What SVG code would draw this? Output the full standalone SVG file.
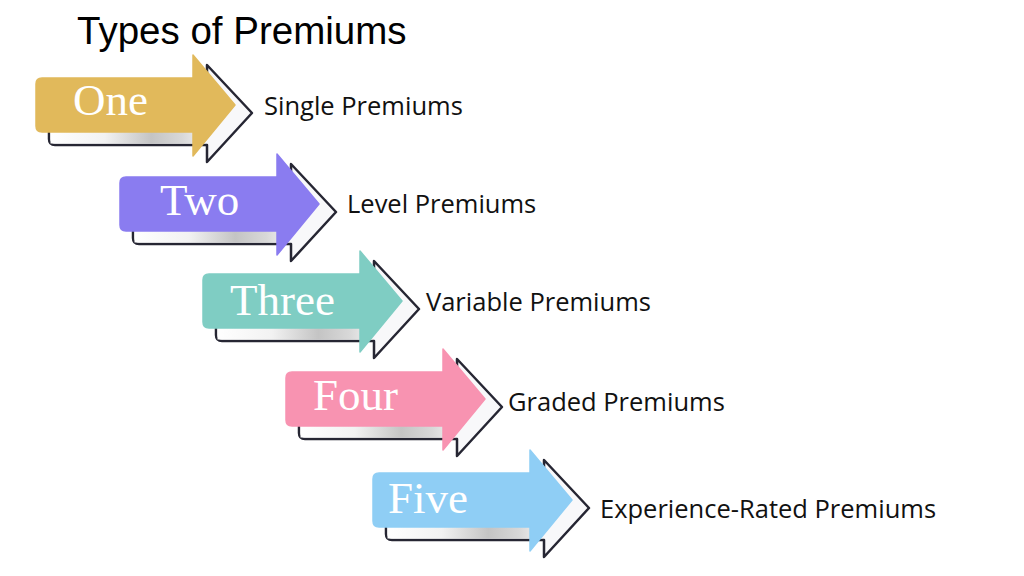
<svg xmlns="http://www.w3.org/2000/svg" width="1024" height="576" viewBox="0 0 1024 576">
<style>
.title{font-family:"Liberation Sans",Arial,sans-serif;font-size:38.5px;fill:#000}
.lbl{font-family:"Open Sans","Liberation Sans",sans-serif;font-size:25.5px;fill:#111}
.num{font-family:"Liberation Serif","Times New Roman",serif;font-size:45px;fill:#fff}
.outl{fill:#f8f8fa;stroke:#262633;stroke-width:2.5;stroke-linejoin:round}
</style>
<defs>
<linearGradient id="shade" x1="0" y1="0" x2="1" y2="0">
<stop offset="0" stop-color="#ffffff"/>
<stop offset="0.35" stop-color="#f2f2f2"/>
<stop offset="0.65" stop-color="#c4c4c4"/>
<stop offset="0.85" stop-color="#d8d8d8"/>
<stop offset="1" stop-color="#f2f2f2"/>
</linearGradient>
<path id="back" d="M13,13 H171 V-13 L216,35 L171,84 V67 H19 Q13,67 13,61 Z"/>
<path id="front" d="M6,0 H157 V-23 L199,27 L157,78 V54 H6 Q0,54 0,48 V6 Q0,0 6,0 Z"/>
<g id="shadowArrow">
<use href="#back" class="outl"/>
<rect x="14.5" y="53" width="155" height="12.5" fill="url(#shade)"/>
</g>
</defs>
<text class="title" x="77" y="44">Types of Premiums</text>
<g id="node-one" transform="translate(36,78)">
<use href="#shadowArrow"/>
<use href="#front" fill="#E1B95B" stroke="#E1B95B" stroke-width="1.5" stroke-linejoin="round"/>
<text class="num" x="37" y="37">One</text>
</g>
<g id="node-two" transform="translate(120,177)">
<use href="#shadowArrow"/>
<use href="#front" fill="#8A7CF0" stroke="#8A7CF0" stroke-width="1.5" stroke-linejoin="round"/>
<text class="num" x="40" y="38">Two</text>
</g>
<g id="node-three" transform="translate(203,274)">
<use href="#shadowArrow"/>
<use href="#front" fill="#7FCDC3" stroke="#7FCDC3" stroke-width="1.5" stroke-linejoin="round"/>
<text class="num" x="27" y="41">Three</text>
</g>
<g id="node-four" transform="translate(286,372)">
<use href="#shadowArrow"/>
<use href="#front" fill="#F893B1" stroke="#F893B1" stroke-width="1.5" stroke-linejoin="round"/>
<text class="num" x="27" y="38">Four</text>
</g>
<g id="node-five" transform="translate(373,473)">
<use href="#shadowArrow"/>
<use href="#front" fill="#8FCEF5" stroke="#8FCEF5" stroke-width="1.5" stroke-linejoin="round"/>
<text class="num" x="15" y="40">Five</text>
</g>
<g id="labels">
<text class="lbl" x="264" y="115">Single Premiums</text>
<text class="lbl" x="347" y="213">Level Premiums</text>
<text class="lbl" x="426" y="311">Variable Premiums</text>
<text class="lbl" x="508" y="411">Graded Premiums</text>
<text class="lbl" x="600" y="518">Experience-Rated Premiums</text>
</g>
<g id="connectors"/>
</svg>
